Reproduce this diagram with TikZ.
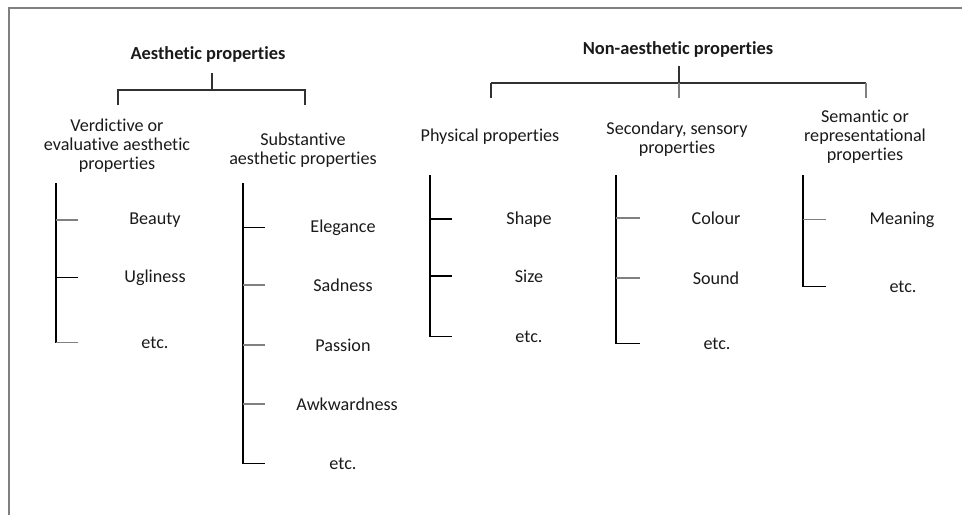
\documentclass[tikz,border=0pt]{standalone}
\usepackage{fontspec}
\setmainfont{Carlito}[Ligatures=NoCommon]
\usetikzlibrary{positioning}
\definecolor{ink}{HTML}{1A1A1A}
\definecolor{lgray}{HTML}{808080}
\tikzset{%
  lbl/.style = {font=\fontsize{13.6}{14.2}\selectfont, text=ink,
        align=center, inner sep=0pt},
  item/.style = {lbl, anchor=mid},
  head/.style = {lbl, font=\fontsize{13.8}{14.2}\selectfont\bfseries},
  trunk/.style = {line width=2.2pt},
  brace/.style = {line width=1.6pt, draw=ink!90},
  tick/.style = {line width=1.4pt},
  gtick/.style = {tick, draw=lgray},
  frame/.style = {line width=0.8pt, draw=gray}
}

\begin{document}
\begin{tikzpicture}[x=0.75pt, y=-0.75pt]
    \useasboundingbox (0,0) rectangle (962,515);
    % frame
    \coordinate (fr-bl) at (9,515);
    \coordinate (fr-tl) at (9,8);
    \coordinate (fr-tr) at (962,8);
    \draw[frame] (fr-bl) -- (fr-tl) -- (fr-tr);

    % aesthetic side
    \node[head] (aes) at (208,54) {Aesthetic properties};
    \node[lbl] (verd) at (117,146) {Verdictive or\\evaluative aesthetic\\properties};
    \node[lbl] (subst) at (303,150) {Substantive\\aesthetic properties};

    \coordinate (aes-top) at (212,73);
    \coordinate (aes-mid) at (212,90);
    \coordinate (aes-l) at (118,105);
    \coordinate (aes-r) at (305,105);
    \draw[brace] (aes-top) -- (aes-mid);
    \draw[brace] (aes-l) -- (aes-l |- aes-mid) -- (aes-r |- aes-mid) -- (aes-r);

    % non-aesthetic side
    \node[head] (non) at (678,49) {Non-aesthetic properties};
    \node[lbl] (phys) at (490,137) {Physical properties};
    \node[lbl] (second) at (677,139) {Secondary, sensory\\properties};
    \node[lbl] (seman) at (865,137) {Semantic or\\representational\\properties};

    \coordinate (non-top) at (679,66);
    \coordinate (non-mid) at (679,83);
    \coordinate (non-l) at (491,98);
    \coordinate (non-c) at (679,98);
    \coordinate (non-r) at (866,98);
    \draw[brace] (non-top) -- (non-mid);
    \draw[brace] (non-l |- non-mid) -- (non-r |- non-mid);
    \draw[brace] (non-l) -- (non-l |- non-mid);
    \draw[brace, draw=lgray] (non-c) -- (non-mid);
    \draw[brace, draw=lgray] (non-r) -- (non-r |- non-mid);

    % items
    \node[item] (beauty) at (155,221) {Beauty};
    \node[item] (ugly) at (155,279) {Ugliness};
    \node[item] (etc-a) at (155,345) {etc.};

    \node[item] (elegance) at (343,229) {Elegance};
    \node[item] (sadness) at (343,288) {Sadness};
    \node[item] (passion) at (343,348) {Passion};
    \node[item] (awkward) at (347,407) {Awkwardness};
    \node[item] (etc-b) at (343,466) {etc.};

    \node[item] (shape) at (529,221) {Shape};
    \node[item] (size) at (529,279) {Size};
    \node[item] (etc-c) at (529,339) {etc.};

    \node[item] (colour) at (716,221) {Colour};
    \node[item] (sound) at (716,281) {Sound};
    \node[item] (etc-d) at (717,346) {etc.};

    \node[item] (meaning) at (902,221) {Meaning};
    \node[item] (etc-e) at (903,289) {etc.};

    % trunks
    \coordinate (ta) at (56,183);   \coordinate (ta-e) at (78,183);
    \coordinate (tb) at (243,183);  \coordinate (tb-e) at (265,183);
    \coordinate (tc) at (430,175);  \coordinate (tc-e) at (452,175);
    \coordinate (td) at (616,175);  \coordinate (td-e) at (640,175);
    \coordinate (te) at (803,175);  \coordinate (te-e) at (826,175);

    \draw[trunk] (ta) -- (ta |- etc-a);
    \draw[trunk] (tb) -- (tb |- etc-b);
    \draw[trunk] (tc) -- (tc |- etc-c);
    \draw[trunk] (td) -- (td |- etc-d);
    \draw[trunk] (te) -- (te |- etc-e);

    % ticks
    \foreach \n/\s in {beauty/gtick, ugly/tick, etc-a/gtick}
        \draw[\s] (ta |- \n) -- (ta-e |- \n);
    \foreach \n/\s in {elegance/tick, sadness/gtick, passion/gtick,
            awkward/gtick, etc-b/tick}
        \draw[\s] (tb |- \n) -- (tb-e |- \n);
    \foreach \n/\s in {shape/tick, size/tick, etc-c/tick}
        \draw[\s] (tc |- \n) -- (tc-e |- \n);
    \foreach \n/\s in {colour/gtick, sound/gtick, etc-d/tick}
        \draw[\s] (td |- \n) -- (td-e |- \n);
    \foreach \n/\s in {meaning/gtick, etc-e/tick}
        \draw[\s] (te |- \n) -- (te-e |- \n);
\end{tikzpicture}
\end{document}
